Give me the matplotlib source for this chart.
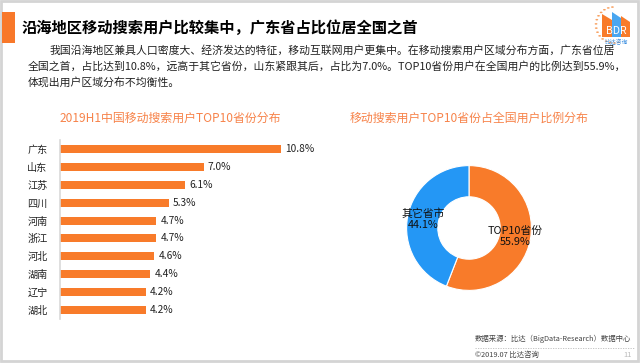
import numpy as np
import matplotlib
matplotlib.use('Agg')
import matplotlib.pyplot as plt
from matplotlib.patches import Rectangle, Polygon, Circle

plt.rcParams['font.family'] = ['Noto Sans CJK SC', 'DejaVu Sans']

# data
provinces = ['广东', '山东', '江苏', '四川', '河南', '浙江', '河北', '湖南', '辽宁', '湖北']
shares = [10.8, 7.0, 6.1, 5.3, 4.7, 4.7, 4.6, 4.4, 4.2, 4.2]
pie_names = ['TOP10省份', '其它省市']
pie_values = [55.9, 44.1]

title = '沿海地区移动搜索用户比较集中，广东省占比位居全国之首'
body = ['我国沿海地区兼具人口密度大、经济发达的特征，移动互联网用户更集中。在移动搜索用户区域分布方面，广东省位居',
        '全国之首，占比达到10.8%，远高于其它省份，山东紧跟其后，占比为7.0%。TOP10省份用户在全国用户的比例达到55.9%，',
        '体现出用户区域分布不均衡性。']
bar_title = '2019H1中国移动搜索用户TOP10省份分布'
pie_title = '移动搜索用户TOP10省份占全国用户比例分布'

W, H = 641, 363
orange = '#F87B2A'
blue = '#2497F5'
title_orange = '#F7834A'


def fx(x):
    return x / W


def fy(y):
    return 1 - y / H


fig = plt.figure(figsize=(W / 100, H / 100), dpi=100)
fig.patch.set_facecolor('white')

# page frame
fig.add_artist(Rectangle((fx(1), fy(361)), fx(637), 360 / H, transform=fig.transFigure,
                         fill=False, edgecolor='#d4d4d4', lw=2))

# header
fig.add_artist(Rectangle((fx(2), fy(43)), fx(13), 31 / H, transform=fig.transFigure,
                         facecolor='#F8782A', edgecolor='none'))
fig.text(fx(22), fy(28), title, fontsize=11, fontweight='bold', color='black', va='center')

# logo (rough)
for a in np.linspace(95, 285, 15):
    r = 18
    fig.add_artist(Circle((fx(614 + r * np.cos(np.radians(a))), fy(25 - r * np.sin(np.radians(a)))),
                          0.0022, transform=fig.transFigure, color='#F8A060', lw=0))
fig.add_artist(Polygon([(fx(602), fy(37)), (fx(602), fy(14)), (fx(612), fy(20)), (fx(612), fy(37))],
                       closed=True, transform=fig.transFigure, facecolor=orange, edgecolor='none'))
fig.add_artist(Polygon([(fx(612), fy(37)), (fx(612), fy(12)), (fx(621), fy(18)), (fx(621), fy(37))],
                       closed=True, transform=fig.transFigure, facecolor='#49A6F0', edgecolor='none'))
fig.add_artist(Polygon([(fx(621), fy(37)), (fx(621), fy(16)), (fx(630), fy(22)), (fx(630), fy(37))],
                       closed=True, transform=fig.transFigure, facecolor=orange, edgecolor='none'))
fig.text(fx(616), fy(31), 'BDR', fontsize=7.5, color='white', ha='center', va='center')
fig.text(fx(616), fy(42), '比达咨询', fontsize=4.2, color='#3C8FE0', ha='center', va='center')

# body text
fig.text(fx(50), fy(50), body[0], fontsize=7.8, color='#222222', va='center')
fig.text(fx(28), fy(66), body[1], fontsize=7.8, color='#222222', va='center')
fig.text(fx(28), fy(82), body[2], fontsize=7.8, color='#222222', va='center')

# chart titles
fig.text(fx(170), fy(118), bar_title, fontsize=8.6, color=title_orange, ha='center', va='center')
fig.text(fx(469), fy(118), pie_title, fontsize=8.6, color=title_orange, ha='center', va='center')

# bar chart
ax = fig.add_axes([fx(60), fy(319), fx(246), 179 / H])
y = np.arange(len(provinces))
ax.barh(y, shares, height=0.45, color=orange)
ax.set_xlim(0, 12)
ax.set_ylim(9.5, -0.5)
for yi, v in zip(y, shares):
    ax.text(v + 0.2, yi, f'{v:.1f}%', va='center', ha='left', fontsize=7.3, color='#222222')
ax.set_yticks(y)
ax.set_yticklabels(provinces, fontsize=7.3, color='#222222')
ax.tick_params(axis='y', length=0, pad=9)
ax.set_xticks([])
for s in ['top', 'right', 'bottom']:
    ax.spines[s].set_visible(False)
ax.spines['left'].set_color('#d9d9d9')
ax.spines['left'].set_linewidth(1.2)
ax.patch.set_alpha(0)

# donut
pax = fig.add_axes([fx(469 - 78), fy(228 + 78), fx(156), 156 / H])
wedges, texts = pax.pie(pie_values, colors=[orange, blue], startangle=90, counterclock=False,
                        labels=[f'{n}\n{v}%' for n, v in zip(pie_names, pie_values)],
                        labeldistance=0.75, wedgeprops=dict(width=0.5, edgecolor='white', linewidth=0.8),
                        textprops=dict(fontsize=7.8, color='#111111'))
for t in texts:
    t.set_ha('center')
    t.set_va('center')
    t.set_linespacing(1.1)
pax.set_aspect('equal')

# footer
fig.text(fx(475), fy(339), '数据来源：比达（BigData-Research）数据中心', fontsize=5.3, color='#444444', va='center')
fig.add_artist(plt.Line2D([fx(475), fx(634)], [fy(348), fy(348)], transform=fig.transFigure,
                          color='#bbbbbb', lw=0.6, ls=(0, (1.5, 1.5))))
fig.text(fx(475), fy(355), '©2019.07 比达咨询', fontsize=5.3, color='#444444', va='center')
fig.text(fx(632), fy(355), '11', fontsize=5.5, color='#bbbbbb', ha='right', va='center')

fig.savefig('out.png', dpi=100)
